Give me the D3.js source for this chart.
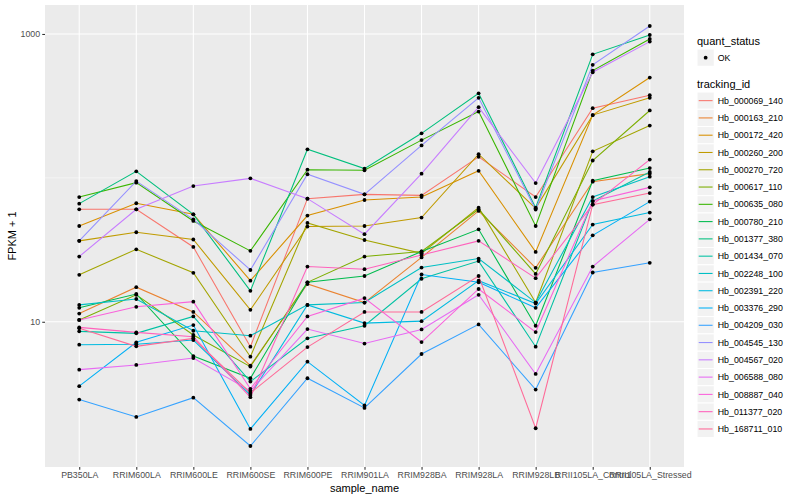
<!DOCTYPE html>
<html><head><meta charset="utf-8">
<script src="https://cdn.jsdelivr.net/npm/d3@7"></script>
<style>body{margin:0;background:#fff}svg{display:block}text{font-family:"Liberation Sans",Arial,Helvetica,sans-serif}</style>
</head><body><svg id="c" width="800" height="500"></svg>
<script>
const categories = ["PB350LA","RRIM600LA","RRIM600LE","RRIM600SE","RRIM600PE","RRIM901LA","RRIM928BA","RRIM928LA","RRIM928LB","RRII105LA_Control","RRII105LA_Stressed"];
const trackingIds = ["Hb_000069_140","Hb_000163_210","Hb_000172_420","Hb_000260_200","Hb_000270_720","Hb_000617_110","Hb_000635_080","Hb_000780_210","Hb_001377_380","Hb_001434_070","Hb_002248_100","Hb_002391_220","Hb_003376_290","Hb_004209_030","Hb_004545_130","Hb_004567_020","Hb_006588_080","Hb_008887_040","Hb_011377_020","Hb_168711_010"];
const colors = ["#F8766D","#EA8331","#D89000","#C09B00","#A3A500","#7CAE00","#39B600","#00BB4E","#00BF7D","#00C1A3","#00BFC4","#00BAE0","#00B0F6","#35A2FF","#9590FF","#C77CFF","#E76BF3","#FA62DB","#FF62BC","#FF6A98"];
const quantStatus = ["OK"];
const yTicks = [10, 1000];
const yMinor = [100];

const hb_000069_140 = [60.5, 60.5, 33.1, 6.71, 71.7, 76.8, 75.6, 140, 73.6, 305, 375];
const hb_000163_210 = [11.4, 17.4, 11.7, 4.96, 18.3, 13.6, 28.0, 58.9, 23.7, 94.1, 107];
const hb_000172_420 = [46.3, 66.6, 55.8, 19.3, 54.7, 70.2, 73.6, 112, 30.6, 273, 498];
const hb_000260_200 = [36.5, 41.9, 37.3, 12.1, 45.9, 46.3, 53.0, 146, 61.4, 273, 360];
const hb_000270_720 = [21.2, 31.9, 21.9, 5.72, 48.6, 37.0, 29.9, 62.1, 13.6, 153, 231];
const hb_000617_110 = [10.3, 15.4, 8.09, 4.88, 18.8, 28.4, 30.8, 60.5, 21.5, 132, 294];
const hb_000635_080 = [73.6, 92.6, 50.2, 31.1, 114, 113, 183, 289, 46.3, 557, 924];
const hb_000780_210 = [12.5, 15.6, 5.78, 4.05, 18.8, 20.8, 30.8, 43.9, 9.38, 95.6, 117];
const hb_001377_380 = [66.2, 111, 55.8, 16.4, 158, 116, 204, 387, 62.1, 722, 984];
const hb_001434_070 = [8.58, 8.31, 10.9, 3.84, 7.67, 9.38, 19.9, 26.4, 6.71, 69.0, 110];
const hb_002248_100 = [13.1, 14.4, 8.66, 8.0, 13.1, 13.6, 23.8, 27.5, 13.6, 73.6, 102];
const hb_002391_220 = [6.93, 6.98, 7.46, 3.10, 13.1, 9.79, 10.1, 19.3, 13.4, 47.4, 57.4];
const hb_003376_290 = [3.57, 7.20, 9.49, 1.80, 5.28, 2.62, 21.3, 18.8, 12.5, 39.9, 68.4];
const hb_004209_030 = [2.88, 2.18, 2.97, 1.37, 4.05, 2.52, 5.97, 9.59, 3.38, 22.0, 25.7];
const hb_004545_130 = [36.5, 95.0, 51.5, 22.9, 106, 76.8, 168, 360, 60.2, 610, 1136];
const hb_004567_020 = [28.4, 60.5, 87.7, 99.2, 71.7, 40.6, 107, 310, 92.0, 542, 885];
const hb_006588_080 = [4.65, 5.01, 5.60, 3.31, 8.90, 7.06, 8.85, 15.4, 4.34, 24.2, 51.5];
const hb_008887_040 = [10.3, 12.7, 13.8, 3.42, 10.9, 14.6, 7.23, 16.9, 8.48, 69.0, 85.9];
const hb_011377_020 = [9.14, 8.44, 7.87, 2.99, 24.2, 23.2, 29.1, 36.5, 20.1, 65.2, 134];
const hb_168711_010 = [9.00, 6.75, 7.67, 3.20, 6.67, 11.7, 11.7, 20.8, 1.82, 65.2, 78.4];

const seriesValues = [hb_000069_140, hb_000163_210, hb_000172_420, hb_000260_200, hb_000270_720, hb_000617_110, hb_000635_080, hb_000780_210, hb_001377_380, hb_001434_070, hb_002248_100, hb_002391_220, hb_003376_290, hb_004209_030, hb_004545_130, hb_004567_020, hb_006588_080, hb_008887_040, hb_011377_020, hb_168711_010];

const series = trackingIds.map((id, i) => ({id, color: colors[i], pts: categories.map((c, j) => ({c, v: seriesValues[i][j]}))}));

const svg = d3.select("#c");
const P = {l: 45, r: 684, t: 5, b: 467};

const x = d3.scalePoint().domain(categories).range([P.l, P.r]).padding(0.6);
const all = seriesValues.flat();
const lmin = Math.log10(d3.min(all)), lmax = Math.log10(d3.max(all));
const ex = (lmax - lmin) * 0.05;
const y = d3.scaleLog().domain([Math.pow(10, lmin - ex), Math.pow(10, lmax + ex)]).range([P.b, P.t]);

svg.append("rect").attr("x", P.l).attr("y", P.t).attr("width", P.r - P.l).attr("height", P.b - P.t).attr("fill", "#EBEBEB");

const g = svg.append("g");
g.selectAll(".ymin").data(yMinor).join("line").attr("x1", P.l).attr("x2", P.r)
  .attr("y1", d => y(d)).attr("y2", d => y(d)).attr("stroke", "#fff").attr("stroke-width", 0.53);
g.selectAll(".ymaj").data(yTicks).join("line").attr("x1", P.l).attr("x2", P.r)
  .attr("y1", d => y(d)).attr("y2", d => y(d)).attr("stroke", "#fff").attr("stroke-width", 1.07);
g.selectAll(".xmaj").data(categories).join("line").attr("y1", P.t).attr("y2", P.b)
  .attr("x1", d => x(d)).attr("x2", d => x(d)).attr("stroke", "#fff").attr("stroke-width", 1.07);

const line = d3.line().x(d => x(d.c)).y(d => y(d.v));
svg.append("g").selectAll("path").data(series).join("path")
  .attr("d", d => line(d.pts)).attr("fill", "none").attr("stroke", d => d.color).attr("stroke-width", 1.07);
svg.append("g").selectAll("circle").data(series.flatMap(s => s.pts)).join("circle")
  .attr("cx", d => x(d.c)).attr("cy", d => y(d.v)).attr("r", 1.9).attr("fill", "#000");

// axes
const yAxis = d3.axisLeft(y).tickValues(yTicks).tickSize(2.75).tickPadding(2.2).tickFormat(d3.format("d"));
const ya = svg.append("g").attr("transform", `translate(${P.l},0)`).call(yAxis);
ya.select(".domain").remove();
ya.selectAll("line").attr("stroke", "#333333").attr("stroke-width", 1.07);
ya.selectAll("text").attr("fill", "#4D4D4D").style("font-size", "8.8px");

const xAxis = d3.axisBottom(x).tickSize(2.75).tickPadding(2.2);
const xa = svg.append("g").attr("transform", `translate(0,${P.b})`).call(xAxis);
xa.select(".domain").remove();
xa.selectAll("line").attr("stroke", "#333333").attr("stroke-width", 1.07);
xa.selectAll("text").attr("fill", "#4D4D4D").style("font-size", "8.8px");

svg.append("text").attr("x", (P.l + P.r) / 2).attr("y", 492).attr("text-anchor", "middle")
  .style("font-size", "11px").attr("fill", "#000").text("sample_name");
svg.append("text").attr("transform", `translate(16,${(P.t + P.b) / 2}) rotate(-90)`).attr("text-anchor", "middle")
  .style("font-size", "11px").attr("fill", "#000").text("FPKM + 1");

// legend
const L = svg.append("g");
const kx = 697, ks = 17.28;
L.append("text").attr("x", kx).attr("y", 44.5).style("font-size", "11px").text("quant_status");
quantStatus.forEach((q, i) => {
  const ky = 49 + i * ks;
  L.append("rect").attr("x", kx).attr("y", ky).attr("width", ks).attr("height", ks).attr("fill", "#F2F2F2").attr("stroke", "#fff");
  L.append("circle").attr("cx", kx + ks / 2).attr("cy", ky + ks / 2).attr("r", 1.9).attr("fill", "#000");
  L.append("text").attr("x", kx + ks + 3.5).attr("y", ky + ks / 2 + 3.1).style("font-size", "8.8px").text(q);
});
L.append("text").attr("x", kx).attr("y", 88).style("font-size", "11px").text("tracking_id");
series.forEach((s, i) => {
  const ky = 92 + i * ks;
  L.append("rect").attr("x", kx).attr("y", ky).attr("width", ks).attr("height", ks).attr("fill", "#F2F2F2").attr("stroke", "#fff");
  L.append("line").attr("x1", kx + 1.7).attr("x2", kx + ks - 1.7).attr("y1", ky + ks / 2).attr("y2", ky + ks / 2)
    .attr("stroke", s.color).attr("stroke-width", 1.07);
  L.append("text").attr("x", kx + ks + 3.5).attr("y", ky + ks / 2 + 3.1).style("font-size", "8.8px").text(s.id);
});
</script></body></html>
